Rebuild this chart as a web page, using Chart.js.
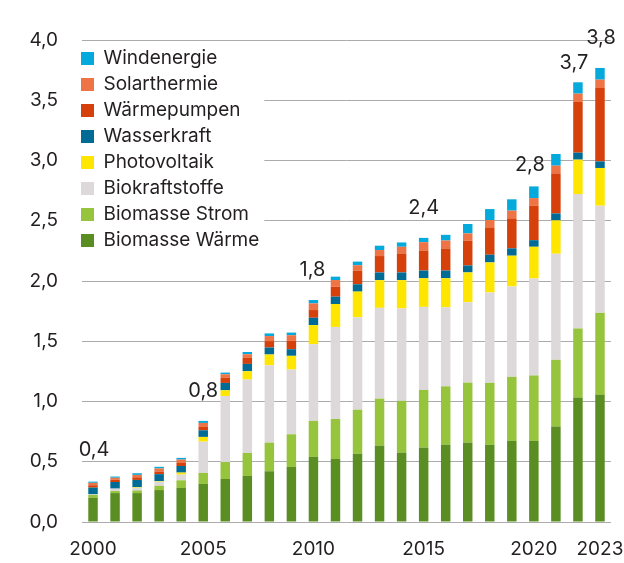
<!DOCTYPE html>
<html lang="de">
<head>
<meta charset="utf-8">
<title>Erneuerbare Energien</title>
<script src="https://cdn.jsdelivr.net/npm/chart.js@4"></script>
<style>
    html, body { margin: 0; padding: 0; background: #fff; }
    #wrap { width: 624px; height: 563px; }
</style>
</head>
<body>
<div id="wrap"><canvas id="chart"></canvas></div>
<script>
// Jahre (Kategorien)
const jahre = ['2000','2001','2002','2003','2004','2005','2006','2007','2008','2009','2010','2011',
               '2012','2013','2014','2015','2016','2017','2018','2019','2020','2021','2022','2023'];
const xBeschriftung = ['2000','2005','2010','2015','2020','2023'];

// Werte je Quelle (von unten nach oben gestapelt)
const biomasseWaerme = [0.20,0.24,0.24,0.265,0.282,0.316,0.357,0.382,0.421,0.457,0.54,0.523,
                        0.567,0.634,0.576,0.617,0.642,0.659,0.64,0.673,0.673,0.792,1.033,1.055];
const biomasseStrom  = [0.025,0.017,0.022,0.036,0.064,0.091,0.141,0.191,0.238,0.271,0.299,0.332,
                        0.365,0.39,0.429,0.479,0.484,0.498,0.515,0.532,0.543,0.554,0.573,0.681];
const biokraftstoffe = [0.005,0.02,0.022,0.033,0.047,0.26,0.548,0.609,0.642,0.537,0.637,0.764,
                        0.767,0.753,0.767,0.689,0.656,0.667,0.75,0.75,0.805,0.88,1.116,0.889];
const photovoltaik   = [0,0,0.005,0.005,0.017,0.039,0.047,0.069,0.089,0.114,0.158,0.19,
                        0.213,0.23,0.235,0.238,0.241,0.247,0.249,0.255,0.263,0.277,0.285,0.313];
const wasserkraft    = [0.055,0.055,0.06,0.058,0.055,0.055,0.061,0.061,0.058,0.055,0.061,0.061,
                        0.061,0.064,0.064,0.064,0.064,0.058,0.064,0.061,0.055,0.058,0.058,0.055];
const waermepumpen   = [0.02,0.02,0.022,0.022,0.025,0.028,0.042,0.05,0.053,0.069,0.064,0.083,
                        0.111,0.136,0.158,0.166,0.183,0.205,0.227,0.249,0.285,0.332,0.421,0.609];
const solarthermie   = [0.02,0.015,0.02,0.025,0.028,0.033,0.03,0.03,0.042,0.047,0.055,0.055,
                        0.047,0.05,0.055,0.069,0.066,0.061,0.061,0.064,0.064,0.064,0.069,0.069];
const windenergie    = [0.01,0.01,0.014,0.014,0.014,0.017,0.014,0.019,0.022,0.022,0.028,0.028,
                        0.03,0.036,0.036,0.036,0.047,0.078,0.091,0.094,0.097,0.097,0.094,0.097];

// Summenwerte über ausgewählten Balken
const summenJahre = ['2000','2005','2010','2015','2020','2022','2023'];
const summenText  = ['0,4','0,8','1,8','2,4','2,8','3,7','3,8'];

const textFarbe = '#231f20';
const schrift = 'Inter, "Open Sans", sans-serif';

function serie(label, data, color) {
    return {
        label: label,
        data: data,
        backgroundColor: color,
        borderWidth: 0,
        barPercentage: 0.43,
        categoryPercentage: 1,
    };
}

// Legende in die linke obere Ecke des Diagramms setzen, weiß hinterlegt
const legendeHintergrund = {
    id: 'legendeHintergrund',
    afterLayout(chart) {
        const lg = chart.legend;
        if (!lg) return;
        const pad = lg.options.labels.padding;
        const area = chart.chartArea;
        const w = lg.width;
        lg.left = area.left - pad - 1;
        lg.right = lg.left + w;
        lg.top = area.top + 2;
        lg.bottom = area.bottom;
        if (!lg._bgPatched) {
            const origDraw = Object.getPrototypeOf(lg).draw;
            lg.draw = function () {
                const col = this.columnSizes && this.columnSizes[0];
                if (col) {
                    const p = this.options.labels.padding;
                    const ctx = this.ctx;
                    ctx.save();
                    ctx.fillStyle = '#fff';
                    ctx.fillRect(this.left + p - 1, this.top + p - 4, col.width + 6, col.height);
                    ctx.restore();
                }
                origDraw.call(this);
            };
            lg._bgPatched = true;
        }
    }
};

// Summen über den Balken
const summenLabels = {
    id: 'summenLabels',
    afterDatasetsDraw(chart, args, opts) {
        const ctx = chart.ctx;
        const meta = chart.getDatasetMeta(chart.data.datasets.length - 1);
        ctx.save();
        ctx.font = opts.fontSize + 'px ' + schrift;
        ctx.fillStyle = textFarbe;
        ctx.textAlign = 'center';
        ctx.textBaseline = 'middle';
        summenJahre.forEach((j, k) => {
            const bar = meta.data[jahre.indexOf(j)];
            if (!bar) return;
            ctx.fillText(summenText[k], bar.x + opts.dx[k], bar.y - opts.dy[k]);
        });
        ctx.restore();
    }
};

new Chart(document.getElementById('chart'), {
    type: 'bar',
    data: {
        labels: jahre,
        datasets: [
            serie('Biomasse Wärme', biomasseWaerme, '#5a8e22'),
            serie('Biomasse Strom', biomasseStrom, '#96c43d'),
            serie('Biokraftstoffe', biokraftstoffe, '#ddd8da'),
            serie('Photovoltaik', photovoltaik, '#ffe600'),
            serie('Wasserkraft', wasserkraft, '#006c96'),
            serie('Wärmepumpen', waermepumpen, '#d5400b'),
            serie('Solarthermie', solarthermie, '#ee7446'),
            serie('Windenergie', windenergie, '#05aadc'),
        ]
    },
    options: {
        responsive: true,
        maintainAspectRatio: false,
        animation: false,
        layout: { padding: { top: 40, left: 0, right: 13, bottom: 0 } },
        scales: {
            x: {
                stacked: true,
                grid: { display: false },
                border: { display: false },
                ticks: {
                    autoSkip: false,
                    maxRotation: 0,
                    padding: 8,
                    color: textFarbe,
                    font: { size: 19, family: schrift },
                    callback: (v, i) => xBeschriftung.includes(jahre[i]) ? jahre[i] : null
                },
                afterFit(s) {
                    s.height = 41;
                    s.paddingLeft = 0;
                    s.paddingRight = 0;
                }
            },
            y: {
                stacked: true,
                min: 0,
                max: 4,
                grid: { color: '#ababab', lineWidth: 1, drawTicks: false },
                border: { display: false },
                ticks: {
                    stepSize: 0.5,
                    padding: 24,
                    color: textFarbe,
                    font: { size: 19, family: schrift },
                    callback: v => v.toFixed(1).replace('.', ',')
                },
                afterFit(s) { s.width = 82; }
            }
        },
        plugins: {
            legend: {
                position: 'chartArea',
                align: 'start',
                reverse: true,
                labels: {
                    boxWidth: 13,
                    boxHeight: 13,
                    padding: 7,
                    color: textFarbe,
                    font: { size: 19, family: schrift }
                }
            },
            tooltip: { enabled: false },
            summenLabels: {
                fontSize: 20,
                dx: [1, 0, -1, 0, -4, -4, 1],
                dy: [32, 30, 30, 30, 21, 19, 30]
            }
        }
    },
    plugins: [legendeHintergrund, summenLabels]
});
</script>
</body>
</html>
